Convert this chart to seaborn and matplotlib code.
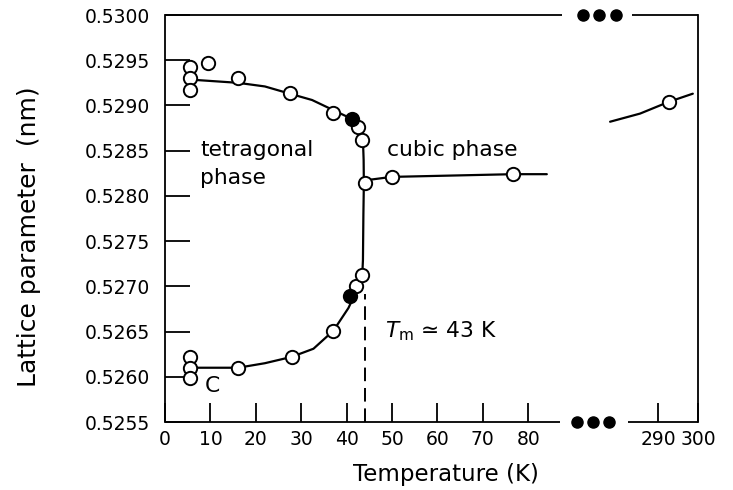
import numpy as np
import matplotlib
matplotlib.use("Agg")
import matplotlib.pyplot as plt
import seaborn as sns

# ---------------- data ----------------
# tetragonal phase, a-axis branch (open circles)
tet_a_T = [5.5, 5.5, 5.5, 9.5, 16.1, 27.5, 37.1, 42.6, 43.3]
tet_a_val = [0.52943, 0.52930, 0.52917, 0.52947, 0.52930, 0.52914, 0.52892, 0.52876, 0.52862]
# tetragonal phase, c-axis branch (open circles)
tet_c_T = [5.5, 5.5, 5.5, 16.1, 27.9, 37.1, 42.0, 43.3]
tet_c_val = [0.52622, 0.52610, 0.52599, 0.52610, 0.52622, 0.52651, 0.52700, 0.52713]
# filled symbols
filled_T = [41.1, 40.7]
filled_val = [0.52885, 0.52689]
# cubic phase (open circles)
cubic_T = [44.05, 49.9, 76.7, 292.7]
cubic_val = [0.52814, 0.52821, 0.52824, 0.52904]

# guide curves
split_T = [5.5, 7.3, 16.1, 22.0, 27.5, 32.4, 37.0, 41.2, 42.9, 43.6, 43.75, 43.8,
           43.7, 43.6, 43.5, 42.95, 41.9, 40.4, 37.1, 32.7, 27.9, 22.0, 16.1, 7.3, 5.5]
split_val = [0.52928, 0.52928, 0.52925, 0.52921, 0.52913, 0.52906, 0.52895, 0.52885,
             0.52876, 0.52862, 0.52840, 0.52814, 0.52780, 0.52729, 0.52718, 0.52705,
             0.52692, 0.52676, 0.52651, 0.52631, 0.52622, 0.52615, 0.52610, 0.52610,
             0.52610]
cubic_fit_T = [43.8, 49.9, 76.7, 84.1]
cubic_fit_val = [0.52817, 0.52821, 0.52824, 0.52824]
room_fit_T = [278.0, 285.5, 292.7, 298.7]
room_fit_val = [0.52882, 0.52891, 0.52904, 0.52913]

T_m = 44.05
T_m_line_top = 0.52692

x_ticks = [0, 10, 20, 30, 40, 50, 60, 70, 80, 290, 300]
x_tick_labels = ["0", "10", "20", "30", "40", "50", "60", "70", "80", "290", "300"]
y_ticks = [0.5255, 0.5260, 0.5265, 0.5270, 0.5275, 0.5280, 0.5285, 0.5290, 0.5295, 0.5300]
y_tick_labels = ["0.5255", "0.5260", "0.5265", "0.5270", "0.5275",
                 "0.5280", "0.5285", "0.5290", "0.5295", "0.5300"]

# ---------------- style ----------------
sns.set_theme(style="white", rc={
    "axes.edgecolor": "black",
    "axes.linewidth": 1.3,
    "xtick.color": "black",
    "ytick.color": "black",
    "text.color": "black",
    "axes.labelcolor": "black",
})
plt.rcParams["font.family"] = ["DejaVu Sans"]

fig = plt.figure(figsize=(7.33, 4.90), dpi=100)
ax = fig.add_axes([165 / 733, 1 - 422 / 490, 533 / 733, 407 / 490])

# broken temperature axis: 0-~90 K linear, then 280-300 K compressed
def fwd(t):
    t = np.asarray(t, dtype=float)
    return np.where(t < 185.0, t, 108.6 + (t - 290.0) * 0.88)

def inv(x):
    x = np.asarray(x, dtype=float)
    return np.where(x < 95.5, x, 290.0 + (x - 108.6) / 0.88)

ax.set_xscale("function", functions=(fwd, inv))
X_SPAN = float(fwd(300.0))

# guide curves
line_kw = dict(color="black", linewidth=1.6, sort=False, estimator=None, ax=ax, zorder=2)
sns.lineplot(x=split_T, y=split_val, **line_kw)
sns.lineplot(x=cubic_fit_T, y=cubic_fit_val, **line_kw)
sns.lineplot(x=room_fit_T, y=room_fit_val, **line_kw)

# dashed transition marker
ax.plot([T_m, T_m], [y_ticks[0], T_m_line_top], color="black", lw=1.4,
        dashes=(7, 3.5), zorder=1)

# data points
open_kw = dict(s=92, color="white", edgecolor="black", linewidth=1.4, ax=ax,
               zorder=4, legend=False)
sns.scatterplot(x=tet_a_T, y=tet_a_val, **open_kw)
sns.scatterplot(x=tet_c_T, y=tet_c_val, **open_kw)
sns.scatterplot(x=cubic_T, y=cubic_val, **open_kw)
sns.scatterplot(x=filled_T, y=filled_val, s=92, color="black", edgecolor="black",
                linewidth=1.4, ax=ax, zorder=4, legend=False)

ax.set_xlim(0, 300)
ax.set_ylim(0.5255, 0.5300)

# ticks
ax.set_xticks(x_ticks)
ax.set_xticklabels(x_tick_labels, fontsize=13.5)
ax.set_yticks(y_ticks)
ax.set_yticklabels(y_tick_labels, fontsize=13.5)
ax.tick_params(axis="x", direction="in", length=14, width=1.3, pad=6,
               bottom=True, top=False)
ax.tick_params(axis="y", direction="in", length=18, width=1.3, pad=10.5,
               left=True, right=False)
ax.minorticks_off()

# broken top/bottom frame with dots
ax.spines["top"].set_visible(False)
ax.spines["bottom"].set_visible(False)
frame_kw = dict(transform=ax.transAxes, color="black", lw=1.3, clip_on=False,
                solid_capstyle="butt", zorder=5)
ax.plot([0, 87.0 / X_SPAN], [0, 0], **frame_kw)
ax.plot([102.0 / X_SPAN, 1], [0, 0], **frame_kw)
ax.plot([0, 87.4 / X_SPAN], [1, 1], **frame_kw)
ax.plot([102.9 / X_SPAN, 1], [1, 1], **frame_kw)
for xs, yv in (([90.7, 94.3, 97.8], 0.0), ([92.1, 95.6, 99.3], 1.0)):
    ax.plot([v / X_SPAN for v in xs], [yv] * 3, "o", color="black", ms=8,
            transform=ax.transAxes, clip_on=False, zorder=6)

# annotations
txt_kw = dict(fontsize=15.7, va="baseline", ha="left")
ax.text(7.7, 0.52844, "tetragonal", **txt_kw)
ax.text(7.7, 0.52813, "phase", **txt_kw)
ax.text(48.9, 0.52844, "cubic phase", **txt_kw)
ax.text(8.8, 0.52583, "C", **txt_kw)
ax.text(48.5, 0.52644, r"$T_{\rm m}$ ≃ 43 K", **txt_kw)

# axis labels
ax.set_xlabel("Temperature (K)", fontsize=16.5)
ax.xaxis.set_label_coords(0.527, -0.100)
ax.set_ylabel("Lattice parameter  (nm)", fontsize=18)
ax.yaxis.set_label_coords(-0.232, 0.455)

fig.savefig("out.png", dpi=100, facecolor="white")
